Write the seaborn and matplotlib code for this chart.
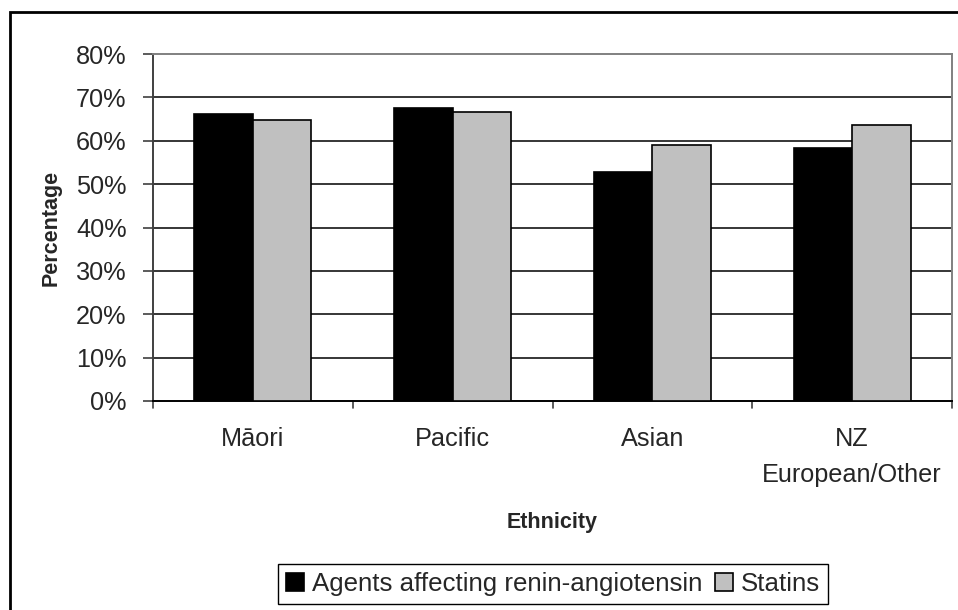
import matplotlib
matplotlib.use("Agg")
import matplotlib.pyplot as plt
import seaborn as sns
import pandas as pd
from matplotlib.patches import Rectangle
from matplotlib.ticker import PercentFormatter

# Share of patients dispensed each medicine class, by ethnicity
ethnicities = ["Māori", "Pacific", "Asian", "NZ\nEuropean/Other"]
raas_agents = [66.2, 67.6, 52.9, 58.4]
statins = [64.8, 66.7, 59.1, 63.7]
series_names = ["Agents affecting renin-angiotensin", "Statins"]
y_ticks = [0, 10, 20, 30, 40, 50, 60, 70, 80]

df = pd.DataFrame({
    "Ethnicity": ethnicities * 2,
    "Percentage": raas_agents + statins,
    "Series": [series_names[0]] * len(ethnicities) + [series_names[1]] * len(ethnicities),
})

sns.set_style("white")
plt.rcParams["font.family"] = ["Liberation Sans", "DejaVu Sans"]

TICK_FS = 18.2
LEGEND_FS = 18.6
TITLE_FS = 15.5

W, H = 958, 610
fig = plt.figure(figsize=(W / 100, H / 100), dpi=100)
ax = fig.add_axes([153 / W, 1 - 401 / H, (952 - 153) / W, (401 - 54) / H])

sns.barplot(
    data=df, x="Ethnicity", y="Percentage", hue="Series",
    palette=["#000000", "#c0c0c0"], width=0.585, gap=0,
    edgecolor="black", linewidth=1.2, ax=ax, legend=True, zorder=3,
)

ax.set_ylim(0, 80)
ax.set_xlim(-0.5, 3.5)
ax.set_yticks(y_ticks)
ax.yaxis.set_major_formatter(PercentFormatter(decimals=0))
ax.set_xticks([0, 1, 2, 3])
ax.set_xticklabels(ethnicities, fontsize=TICK_FS, linespacing=1.6)

# horizontal gridlines
for v in y_ticks[1:-1]:
    ax.axhline(v, color="black", lw=1.1, zorder=1)

# category boundary ticks on the x axis
ax.tick_params(axis="x", length=0, pad=19)
for b in [-0.5, 0.5, 1.5, 2.5, 3.5]:
    ax.plot([b, b], [0, -0.02], transform=ax.get_xaxis_transform(),
            color="#404040", lw=1.2, clip_on=False)
ax.tick_params(axis="y", direction="out", length=7, width=1.2,
               color="#404040", labelsize=TICK_FS, pad=12, left=True)

for side in ["top", "right"]:
    ax.spines[side].set_color("#808080")
    ax.spines[side].set_linewidth(1.4)
ax.spines["left"].set_color("#404040")
ax.spines["left"].set_linewidth(1.4)
ax.spines["bottom"].set_color("black")
ax.spines["bottom"].set_linewidth(1.4)

ax.set_ylabel("Percentage", fontsize=TITLE_FS, fontweight="bold", labelpad=10)
ax.set_xlabel("Ethnicity", fontsize=TITLE_FS, fontweight="bold", labelpad=18)

handles, labels = ax.get_legend_handles_labels()
ax.get_legend().remove()
fig.legend(
    handles, labels, ncol=2, loc="upper left",
    bbox_to_anchor=(278 / W, 1 - 564 / H), fontsize=LEGEND_FS,
    frameon=True, fancybox=False, edgecolor="black", framealpha=1,
    handlelength=0.7, handleheight=0.7, handletextpad=0.3,
    columnspacing=0.5, borderpad=0.3, borderaxespad=0,
)

# outer chart frame
fig.patches.append(Rectangle((10 / W, -0.05), 1.05, 1 - 12 / H + 0.05,
                             transform=fig.transFigure, fill=False,
                             edgecolor="black", lw=2))

fig.savefig("out.png", dpi=100)
